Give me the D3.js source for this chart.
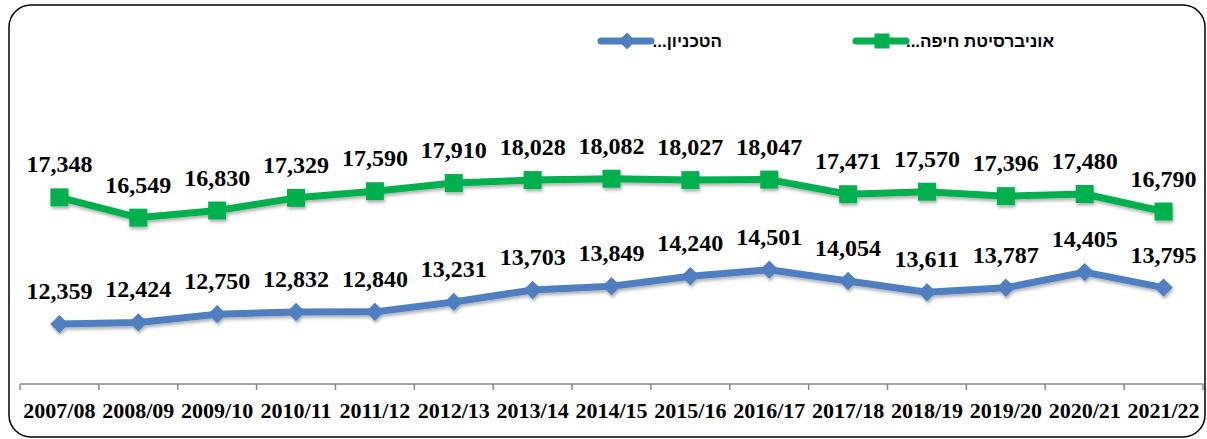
<!DOCTYPE html>
<html>
<head>
<meta charset="utf-8">
<script src="https://cdn.jsdelivr.net/npm/d3@7"></script>
<style>
  body { margin: 0; background: #fff; }
  .val { font-family: "Liberation Serif", "Times New Roman", serif; font-weight: bold; font-size: 24px; fill: #000; }
  .tick-label { font-family: "Liberation Serif", "Times New Roman", serif; font-weight: bold; font-size: 22px; fill: #000; }
  .legend-label { font-family: "Liberation Sans", Arial, sans-serif; font-weight: bold; font-size: 17px; fill: #000; }
</style>
</head>
<body>
<svg id="chart" width="1207" height="439"></svg>
<script>
// years on the x axis
var years = ["2007/08", "2008/09", "2009/10", "2010/11", "2011/12", "2012/13", "2013/14", "2014/15",
	"2015/16", "2016/17", "2017/18", "2018/19", "2019/20", "2020/21", "2021/22"]

var haifaValues = [17348, 16549, 16830, 17329, 17590, 17910, 18028, 18082, 18027, 18047, 17471, 17570, 17396, 17480, 16790]
var technionValues = [12359, 12424, 12750, 12832, 12840, 13231, 13703, 13849, 14240, 14501, 14054, 13611, 13787, 14405, 13795]

var seriesNames = ["אוניברסיטת חיפה...", "הטכניון..."]
var green = "#00b050"
var blue = "#4f7fc1"

var svg = d3.select("#chart")

var defs = svg.append("defs")
var shadow = defs.append("filter").attr("id", "shadow")
	.attr("x", "-20%").attr("y", "-20%").attr("width", "140%").attr("height", "160%")
shadow.append("feDropShadow")
	.attr("dx", 1).attr("dy", 2.5).attr("stdDeviation", 1.5)
	.attr("flood-color", "#000").attr("flood-opacity", 0.3)

// frame
svg.append("rect")
	.attr("x", 9).attr("y", 5)
	.attr("width", 1196).attr("height", 432)
	.attr("rx", 22).attr("ry", 22)
	.attr("fill", "none").attr("stroke", "#000").attr("stroke-width", 1.5)

var x = d3.scaleBand().domain(years).range([20, 1203])
var y = d3.scaleLinear().domain([10000, 20000]).range([384, 130])

// x axis
var axisG = svg.append("g").attr("transform", "translate(0,384)")
axisG.append("line")
	.attr("x1", x.range()[0]).attr("x2", x.range()[1])
	.attr("stroke", "#888").attr("stroke-width", 1.5)
var bounds = years.map(function(d) { return x(d) })
bounds.push(x.range()[1])
axisG.selectAll(".tk").data(bounds).enter().append("line")
	.attr("x1", function(d) { return d }).attr("x2", function(d) { return d })
	.attr("y1", 0).attr("y2", 6)
	.attr("stroke", "#888").attr("stroke-width", 1.5)
axisG.selectAll(".tick-label").data(years).enter().append("text")
	.attr("class", "tick-label")
	.attr("x", function(d) { return x(d) + x.bandwidth() / 2 })
	.attr("y", 34)
	.attr("text-anchor", "middle")
	.text(function(d) { return d })

var line = d3.line()
	.x(function(d, i) { return x(years[i]) + x.bandwidth() / 2 })
	.y(function(d) { return y(d) })

function drawSeries(values, color, marker) {
	var g = svg.append("g").attr("filter", "url(#shadow)")
	g.append("path")
		.datum(values)
		.attr("d", line)
		.attr("fill", "none")
		.attr("stroke", color)
		.attr("stroke-width", 7)
		.attr("stroke-linejoin", "round")
	g.selectAll(".pt").data(values).enter().append("path")
		.attr("transform", function(d, i) {
			return "translate(" + (x(years[i]) + x.bandwidth() / 2) + "," + y(d) + ")" + (marker == "diamond" ? " rotate(45)" : "")
		})
		.attr("d", marker == "diamond" ? "M-6.5,-6.5H6.5V6.5H-6.5Z" : "M-9,-9H9V9H-9Z")
		.attr("fill", color)
	svg.selectAll(null).data(values).enter().append("text")
		.attr("class", "val")
		.attr("x", function(d, i) { return x(years[i]) + x.bandwidth() / 2 })
		.attr("y", function(d) { return y(d) - 25 })
		.attr("text-anchor", "middle")
		.text(function(d) { return d3.format(",")(d) })
}

drawSeries(haifaValues, green, "square")
drawSeries(technionValues, blue, "diamond")

// legend: line + marker, label drawn on top (its dots overlap the line end)
function legendItem(markerX, textRight, color, marker, label) {
	var g = svg.append("g")
	g.append("line")
		.attr("x1", markerX - 26).attr("x2", markerX + 24).attr("y1", 41).attr("y2", 41)
		.attr("stroke", color).attr("stroke-width", 7).attr("stroke-linecap", "round")
	g.append("path")
		.attr("transform", "translate(" + markerX + ",41)" + (marker == "diamond" ? " rotate(45)" : ""))
		.attr("d", marker == "diamond" ? "M-6,-6H6V6H-6Z" : "M-7.5,-7.5H7.5V7.5H-7.5Z")
		.attr("fill", color)
	g.append("text")
		.attr("class", "legend-label")
		.attr("x", textRight).attr("y", 47)
		.attr("direction", "rtl")
		.attr("text-anchor", "start")
		.text(label)
}
legendItem(882, 1054, green, "square", seriesNames[0])
legendItem(627, 722, blue, "diamond", seriesNames[1])
</script>
</body>
</html>
